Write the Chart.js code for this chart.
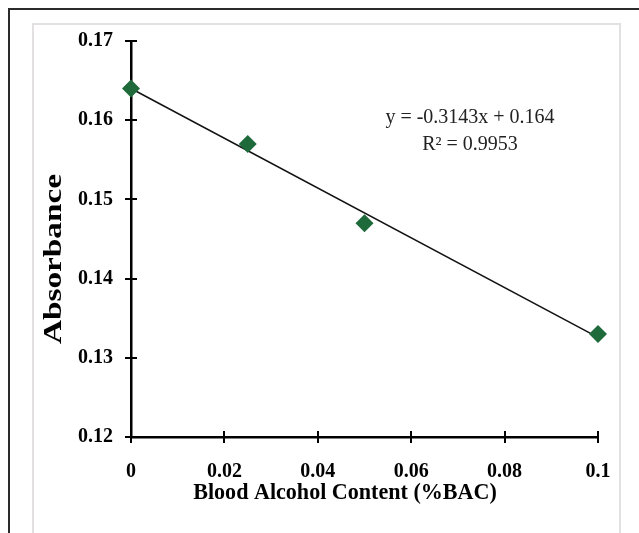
<!DOCTYPE html>
<html>
<head>
<meta charset="utf-8">
<script src="https://cdn.jsdelivr.net/npm/chart.js@4.4.1/dist/chart.umd.min.js"></script>
<style>
  html, body { margin: 0; padding: 0; background: #fff; }
  body { width: 639px; height: 533px; position: relative; overflow: hidden; }
  #outer { position: absolute; left: 8px; top: 8px; width: 660px; height: 560px; border: 2px solid #2b2b2b; box-sizing: border-box; }
  #inner { position: absolute; left: 32px; top: 23px; width: 589px; height: 540px; border: 2px solid #e2e0e0; box-sizing: border-box; background: #fff; }
  #wrap { position: absolute; left: 0; top: 0; width: 639px; height: 533px; }
</style>
</head>
<body>
<div id="outer"></div>
<div id="inner"></div>
<div id="wrap"><canvas id="c" width="639" height="533"></canvas></div>
<script>
// ---- data ----
const bacValues = [0, 0.025, 0.05, 0.1];
const absorbanceValues = [0.164, 0.157, 0.147, 0.133];
const trendX = [0, 0.1];
const trendY = [0.164, 0.13257];
const equationLines = ['y = -0.3143x + 0.164', 'R\u00B2 = 0.9953'];
const xTitle = 'Blood Alcohol Content (%BAC)';
const yTitle = 'Absorbance';

const serif = '"Liberation Serif", "Times New Roman", serif';

const decorPlugin = {
  id: 'decor',
  afterDraw(chart) {
    const ctx = chart.ctx;
    const xs = chart.scales.x, ys = chart.scales.y;
    ctx.save();
    // crossing tick marks
    ctx.strokeStyle = '#000';
    ctx.lineWidth = 2;
    ys.ticks.forEach(t => {
      const py = Math.round(ys.getPixelForValue(t.value));
      ctx.beginPath();
      ctx.moveTo(xs.left - 6, py);
      ctx.lineTo(xs.left + 6, py);
      ctx.stroke();
    });
    xs.ticks.forEach(t => {
      const px = Math.round(xs.getPixelForValue(t.value));
      ctx.beginPath();
      ctx.moveTo(px, ys.bottom - 6);
      ctx.lineTo(px, ys.bottom + 6);
      ctx.stroke();
    });
    // y axis title (rotated, wide)
    ctx.fillStyle = '#000';
    ctx.textAlign = 'center';
    ctx.textBaseline = 'middle';
    ctx.save();
    ctx.translate(54, 259);
    ctx.rotate(-Math.PI / 2);
    ctx.scale(1.28, 1);
    ctx.font = 'bold 26px ' + serif;
    ctx.fillText(yTitle, 0, 0);
    ctx.restore();
    // x axis title (slightly condensed)
    ctx.save();
    ctx.translate(345, 493);
    ctx.scale(0.92, 1);
    ctx.font = 'bold 24px ' + serif;
    ctx.fillText(xTitle, 0, 0);
    ctx.restore();
    // equation
    ctx.font = '20px ' + serif;
    ctx.fillStyle = '#222';
    ctx.fillText(equationLines[0], 470, 118);
    ctx.fillText(equationLines[1], 470, 145);
    ctx.restore();
  }
};

const fmt = v => String(Number(v.toFixed(2)));

new Chart(document.getElementById('c'), {
  data: {
    datasets: [
      {
        type: 'scatter',
        data: bacValues.map((x, i) => ({ x, y: absorbanceValues[i] })),
        pointStyle: 'rectRot',
        pointRadius: 9,
        pointHoverRadius: 9,
        backgroundColor: '#1e6a3a',
        borderColor: '#1e6a3a',
        borderWidth: 0,
        clip: false,
        order: 1
      },
      {
        type: 'line',
        data: trendX.map((x, i) => ({ x, y: trendY[i] })),
        borderColor: '#111',
        borderWidth: 1.5,
        pointRadius: 0,
        fill: false,
        clip: false,
        order: 2
      }
    ]
  },
  options: {
    responsive: false,
    animation: false,
    events: [],
    layout: { padding: { left: 0, right: 41, top: 41, bottom: 0 } },
    plugins: { legend: { display: false }, tooltip: { enabled: false } },
    scales: {
      x: {
        type: 'linear',
        min: 0, max: 0.1,
        grid: { display: false, drawTicks: false },
        border: { display: true, color: '#000', width: 2.5 },
        ticks: {
          stepSize: 0.02,
          padding: 23,
          color: '#000',
          font: { family: serif, size: 20, weight: 'bold' },
          callback: v => fmt(v),
          maxRotation: 0
        },
        afterFit: s => { s.height = 96; }
      },
      y: {
        type: 'linear',
        min: 0.12, max: 0.17,
        grid: { display: false, drawTicks: false },
        border: { display: true, color: '#000', width: 2.5 },
        ticks: {
          stepSize: 0.01,
          padding: 18,
          color: '#000',
          font: { family: serif, size: 20, weight: 'bold' },
          callback: v => v.toFixed(2)
        },
        afterFit: s => { s.width = 131; }
      }
    }
  },
  plugins: [decorPlugin]
});
</script>
</body>
</html>
